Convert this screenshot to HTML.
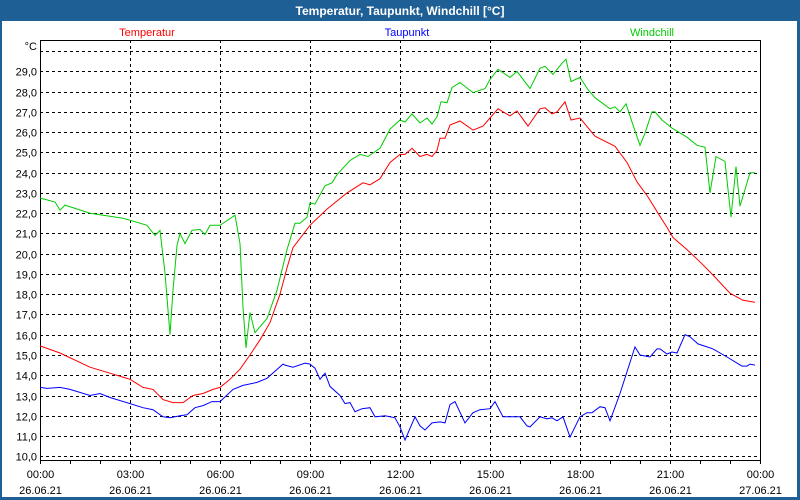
<!DOCTYPE html>
<html><head><meta charset="utf-8"><style>
body{margin:0;width:800px;height:500px;overflow:hidden;background:#fff}
svg{display:block;font-family:"Liberation Sans","DejaVu Sans",sans-serif}
</style></head><body>
<svg id="c" width="800" height="500">
<rect x="0" y="0" width="800" height="500" fill="#1e5f95"/>
<rect x="2" y="21" width="795" height="476" fill="#fff"/>
<text x="400" y="15" text-anchor="middle" fill="#fff" font-size="12" font-weight="bold">Temperatur, Taupunkt, Windchill [°C]</text>
<text x="147" y="36" text-anchor="middle" fill="#ff0000" font-size="11">Temperatur</text>
<text x="407" y="36" text-anchor="middle" fill="#0000ff" font-size="11">Taupunkt</text>
<text x="652" y="36" text-anchor="middle" fill="#00cc00" font-size="11">Windchill</text>
<text x="37" y="50" text-anchor="end" font-size="11">°C</text>
<g id="grid"></g><g id="axes"></g><g id="series"></g>
</svg>
<script>
const yTicks=[10,11,12,13,14,15,16,17,18,19,20,21,22,23,24,25,26,27,28,29,30];
const xTickHours=[0,3,6,9,12,15,18,21,24];
const xTimeLabels=["00:00","03:00","06:00","09:00","12:00","15:00","18:00","21:00","00:00"];
const xDateLabels=["26.06.21","26.06.21","26.06.21","26.06.21","26.06.21","26.06.21","26.06.21","26.06.21","27.06.21"];
const tempMinutes=[0,40,100,140,180,206,226,246,266,286,306,326,346,360,380,400,420,440,460,480,494,506,540,574,614,646,660,680,700,720,730,744,760,774,784,794,800,810,820,840,866,886,900,916,940,954,976,1000,1010,1024,1034,1050,1062,1080,1110,1150,1174,1194,1216,1236,1254,1266,1294,1324,1346,1380,1406,1430];
const tempValues=[15.45,15.1,14.4,14.1,13.8,13.4,13.3,12.8,12.65,12.65,13.0,13.1,13.3,13.4,13.8,14.3,15.0,15.75,16.6,18.0,19.3,20.3,21.4,22.2,23.0,23.5,23.4,23.7,24.5,24.9,24.9,25.2,24.8,24.9,24.8,25.1,25.7,25.7,26.35,26.55,26.1,26.3,26.7,27.15,26.8,27.05,26.3,27.15,27.2,26.9,27.0,27.5,26.6,26.7,25.8,25.3,24.5,23.55,22.8,22.0,21.3,20.8,20.2,19.5,18.95,18.05,17.7,17.6];
const dewMinutes=[0,14,40,60,100,120,140,180,206,226,246,260,280,294,310,326,344,360,386,406,434,454,486,490,506,530,540,550,560,570,580,600,610,620,630,644,660,670,690,710,720,730,750,760,770,784,800,810,820,830,850,866,880,900,910,926,940,960,974,980,1000,1014,1024,1034,1046,1060,1080,1094,1104,1120,1130,1140,1160,1190,1200,1220,1234,1240,1254,1264,1274,1290,1300,1316,1334,1346,1374,1404,1414,1420,1430];
const dewValues=[13.4,13.35,13.4,13.3,13.0,13.1,12.9,12.6,12.4,12.3,11.95,11.9,12.0,12.05,12.4,12.5,12.7,12.7,13.3,13.5,13.65,13.85,14.55,14.5,14.4,14.6,14.55,14.35,13.8,14.1,13.45,13.0,12.6,12.65,12.2,12.35,12.4,11.95,12.0,11.9,11.45,10.8,11.95,11.5,11.3,11.65,11.7,11.65,12.55,12.7,11.65,12.15,12.3,12.35,12.7,11.95,11.95,11.95,11.5,11.45,11.95,11.85,11.9,11.75,11.95,10.95,11.95,12.15,12.15,12.45,12.4,11.75,13.1,15.4,15.0,14.9,15.3,15.3,15.05,15.15,15.1,16.0,15.9,15.55,15.4,15.3,14.9,14.45,14.45,14.55,14.5];
const windMinutes=[0,30,40,50,100,166,214,230,240,250,260,266,274,280,290,304,320,330,340,360,390,400,406,412,420,430,454,474,494,510,520,534,540,550,570,584,594,620,640,656,680,700,720,730,744,760,774,784,794,802,814,824,840,866,890,900,916,940,954,980,1000,1010,1026,1044,1052,1062,1080,1096,1110,1140,1150,1160,1172,1186,1200,1210,1224,1230,1244,1264,1294,1314,1330,1340,1352,1370,1382,1392,1400,1420,1430];
const windValues=[22.75,22.55,22.15,22.4,22.0,21.75,21.4,20.9,21.15,19.05,16.0,18.2,20.4,21.0,20.5,21.15,21.2,20.95,21.4,21.4,21.9,20.5,17.35,15.35,17.1,16.1,16.8,18.2,20.2,21.5,21.5,21.8,22.5,22.45,23.35,23.5,23.9,24.6,24.9,24.8,25.2,26.15,26.6,26.5,26.9,26.45,26.7,26.4,26.75,27.5,27.45,28.2,28.45,27.95,28.15,28.6,29.1,28.7,29.0,28.15,29.15,29.25,28.85,29.4,29.6,28.5,28.7,28.1,27.7,27.15,27.25,27.0,27.4,26.35,25.35,25.95,27.0,27.0,26.6,26.2,25.75,25.35,25.25,23.0,24.8,24.55,21.8,24.3,22.35,24.0,24.0];

const X0=40,X1=760,Y0=40,Y1=460;
const xs=m=>X0+m*(X1-X0)/1440;
const ys=v=>456.3-(v-10)*20.26;
const NS="http://www.w3.org/2000/svg";
function mk(tag,attrs,parent,text){const e=document.createElementNS(NS,tag);for(const k in attrs)e.setAttribute(k,attrs[k]);if(text!==undefined)e.textContent=text;parent.appendChild(e);return e;}
const grid=document.getElementById('grid'),axes=document.getElementById('axes'),series=document.getElementById('series');
yTicks.forEach(v=>{
  const y=Math.round(ys(v))+0.5;
  const l=mk('line',{x1:X0,x2:X1,y1:y,y2:y,stroke:'#000','stroke-dasharray':'3,3','stroke-width':1},grid);
  
  
  if(v<30){
    const t=mk('text',{x:37,y:y+4,'text-anchor':'end','font-size':11},axes,v.toFixed(1).replace('.',','));
    
    
  }
});
xTickHours.forEach((h,i)=>{
  const x=Math.round(xs(h*60))+0.5;
  if(i>0&&i<xTickHours.length-1){
    const l=mk('line',{x1:x,x2:x,y1:Y0,y2:Y1,stroke:'#000','stroke-dasharray':'3,3'},grid);
    
    
  }
  const t=mk('text',{x:x,y:478,'text-anchor':'middle','font-size':11},axes,xTimeLabels[i]);
  
  
  const d=mk('text',{x:x,y:494,'text-anchor':'middle','font-size':11},axes,xDateLabels[i]);
  
  
});
for(let h=0;h<=24;h++){
  const x=Math.round(xs(h*60))+0.5;
  const tk=mk('line',{x1:x,x2:x,y1:Y1,y2:Y1+4,stroke:'#000'},axes);
  
  
}
const box=mk('rect',{x:X0+0.5,y:Y0+0.5,width:X1-X0,height:Y1-Y0,fill:'none',stroke:'#000','stroke-width':1},axes);


function line(mins,vals,color,name){
  const pts=mins.map((m,i)=>xs(m).toFixed(1)+','+ys(vals[i]).toFixed(1)).join(' ');
  const p=mk('polyline',{points:pts,fill:'none',stroke:color,'stroke-width':1},series);
  
  
}
line(windMinutes,windValues,'#00cc00','windchill-line');
line(tempMinutes,tempValues,'#ff0000','temperatur-line');
line(dewMinutes,dewValues,'#0000ff','taupunkt-line');
</script>
</body></html>
